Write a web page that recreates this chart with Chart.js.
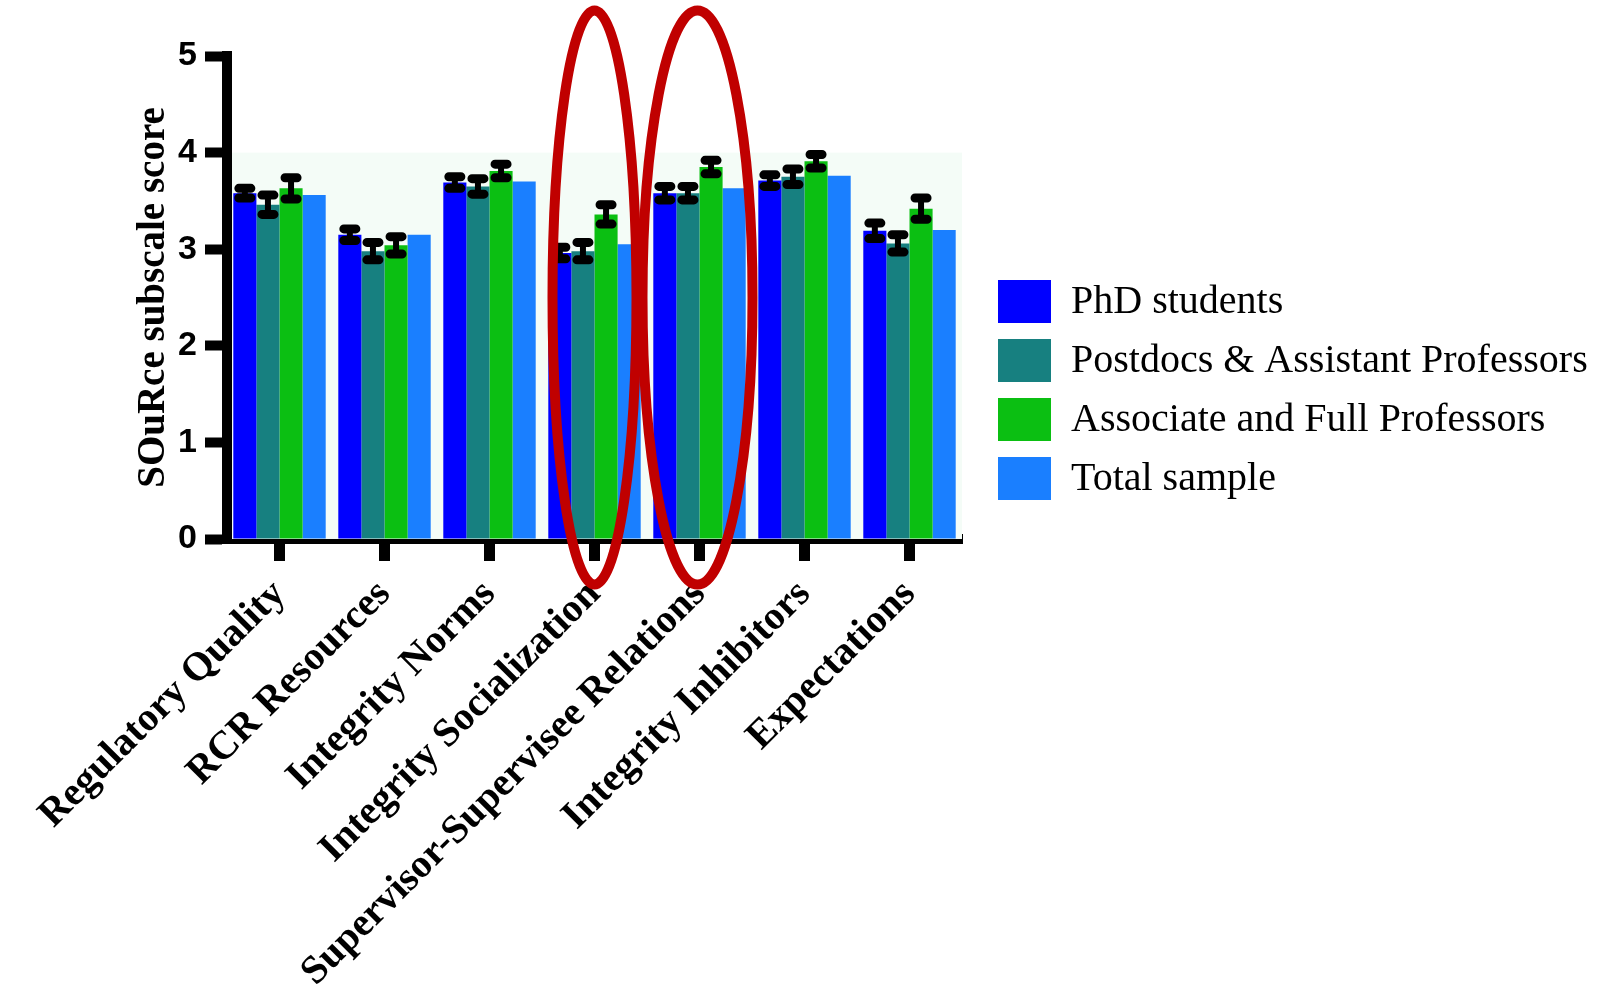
<!DOCTYPE html>
<html>
<head>
<meta charset="utf-8">
<script src="https://cdn.jsdelivr.net/npm/chart.js@4.4.1/dist/chart.umd.min.js"></script>
<style>
  body { margin: 0; background: #fff; }
  #wrap { width: 1599px; height: 991px; position: relative; }
</style>
</head>
<body>
<div id="wrap"><canvas id="sourceChart"></canvas></div>
<script>
// categories and series
const categories = ['Regulatory Quality', 'RCR Resources', 'Integrity Norms', 'Integrity Socialization',
                    'Supervisor-Supervisee Relations', 'Integrity Inhibitors', 'Expectations'];
const seriesNames = ['PhD students', 'Postdocs & Assistant Professors', 'Associate and Full Professors', 'Total sample'];
const phdScores     = [3.58, 3.15, 3.69, 2.96, 3.58, 3.71, 3.19];
const postdocScores = [3.46, 2.98, 3.65, 2.98, 3.58, 3.75, 3.06];
const profScores    = [3.63, 3.04, 3.81, 3.36, 3.85, 3.91, 3.42];
const totalScores   = [3.56, 3.15, 3.70, 3.05, 3.63, 3.76, 3.20];
// half-width of the error bars
const phdErrors     = [0.05, 0.06, 0.06, 0.06, 0.07, 0.06, 0.08];
const postdocErrors = [0.10, 0.09, 0.08, 0.09, 0.07, 0.08, 0.09];
const profErrors    = [0.11, 0.09, 0.07, 0.10, 0.07, 0.07, 0.11];
const yTicks = [0, 1, 2, 3, 4, 5];
// categories circled in red
const highlighted = [3, 4];

const colors = ['#0000ff', '#178080', '#0bbf12', '#1a7fff'];

// pale band behind the bars, from 0 up to 4
const bandPlugin = {
  id: 'band',
  beforeDatasetsDraw(chart) {
    const {ctx, chartArea, scales: {y}} = chart;
    ctx.save();
    ctx.fillStyle = '#f4fcf7';
    const top = y.getPixelForValue(4);
    ctx.fillRect(chartArea.left + 5, top, chartArea.right - chartArea.left - 5, y.getPixelForValue(0) - top);
    ctx.restore();
  }
};

const errorBarPlugin = {
  id: 'errorBars',
  afterDatasetsDraw(chart) {
    const ctx = chart.ctx;
    const y = chart.scales.y;
    chart.data.datasets.forEach((ds, i) => {
      if (!ds.errors) return;
      chart.getDatasetMeta(i).data.forEach((bar, j) => {
        const top = y.getPixelForValue(ds.data[j] + ds.errors[j]);
        const bot = y.getPixelForValue(ds.data[j] - ds.errors[j]);
        ctx.save();
        ctx.strokeStyle = '#000';
        ctx.lineCap = 'round';
        ctx.lineWidth = 6;
        ctx.beginPath();
        ctx.moveTo(bar.x, top); ctx.lineTo(bar.x, bot);
        ctx.stroke();
        ctx.lineWidth = 9;
        ctx.beginPath();
        ctx.moveTo(bar.x - 6, top); ctx.lineTo(bar.x + 6, top);
        ctx.moveTo(bar.x - 6, bot); ctx.lineTo(bar.x + 6, bot);
        ctx.stroke();
        ctx.restore();
      });
    });
  }
};

// legend on the right + red ellipses
const extrasPlugin = {
  id: 'extras',
  afterDraw(chart) {
    const {ctx, chartArea, scales: {x, y}} = chart;
    ctx.save();
    const bx = chartArea.right + 36;
    chart.data.datasets.forEach((ds, i) => {
      const cy = 301 + i * 59;
      ctx.fillStyle = ds.backgroundColor;
      ctx.fillRect(bx, cy - 21, 53, 43);
      ctx.fillStyle = '#000';
      ctx.font = '40px "Liberation Serif"';
      ctx.textBaseline = 'middle';
      ctx.fillText(ds.label, bx + 73, cy + 1);
    });

    ctx.strokeStyle = '#c00000';
    ctx.lineWidth = 10;
    const rx = [42, 55];
    highlighted.forEach((idx, k) => {
      ctx.beginPath();
      ctx.ellipse(x.getPixelForValue(idx) - k * 2, y.getPixelForValue(2.5), rx[k], 287, 0, 0, Math.PI * 2);
      ctx.stroke();
    });
    ctx.restore();
  }
};

const ctx = document.getElementById('sourceChart').getContext('2d');
new Chart(ctx, {
  type: 'bar',
  data: {
    labels: categories,
    datasets: [
      { label: seriesNames[0], data: phdScores, errors: phdErrors, backgroundColor: colors[0] },
      { label: seriesNames[1], data: postdocScores, errors: postdocErrors, backgroundColor: colors[1] },
      { label: seriesNames[2], data: profScores, errors: profErrors, backgroundColor: colors[2] },
      { label: seriesNames[3], data: totalScores, backgroundColor: colors[3] }
    ]
  },
  options: {
    responsive: true,
    maintainAspectRatio: false,
    animation: false,
    datasets: { bar: { categoryPercentage: 0.88, barPercentage: 1.0 } },
    layout: { padding: { left: 127, top: 56, right: 637, bottom: 0 } },
    plugins: {
      legend: { display: false },
      tooltip: { enabled: false }
    },
    scales: {
      x: {
        afterFit(scale) { scale.height = 452; },
        border: { display: true, color: '#000', width: 10 },
        grid: { offset: false, drawOnChartArea: false, drawTicks: true, tickLength: 22, tickWidth: 11, tickColor: '#000' },
        ticks: {
          color: '#000',
          minRotation: 45,
          maxRotation: 45,
          autoSkip: false,
          padding: 10,
          font: { family: '"Liberation Serif"', size: 40, weight: 'bold' }
        }
      },
      y: {
        min: 0,
        max: 5,
        afterFit(scale) { scale.width = 100; },
        afterBuildTicks(scale) { scale.ticks = yTicks.map(v => ({ value: v })); },
        border: { display: true, color: '#000', width: 10 },
        grid: { drawOnChartArea: false, drawTicks: true, tickLength: 22, tickWidth: 10, tickColor: '#000' },
        ticks: {
          color: '#000',
          padding: 8,
          font: { family: '"Liberation Sans"', size: 34, weight: 'bold' }
        },
        title: {
          display: true,
          text: 'SOuRce subscale score',
          color: '#000',
          font: { family: '"Liberation Serif"', size: 39, weight: 'bold' }
        }
      }
    }
  },
  plugins: [bandPlugin, errorBarPlugin, extrasPlugin]
});
</script>
</body>
</html>
